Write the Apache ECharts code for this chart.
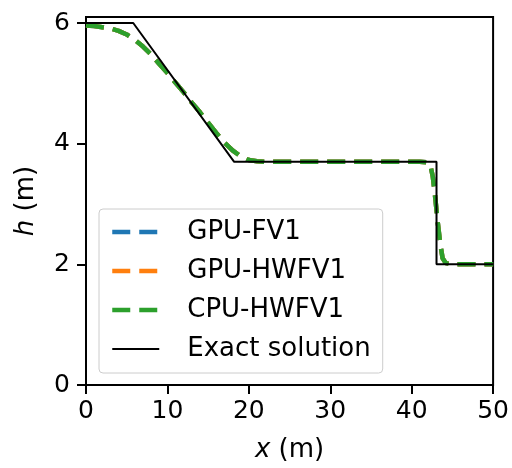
<!DOCTYPE html>
<html>
<head>
<meta charset="utf-8">
<script src="https://cdn.jsdelivr.net/npm/echarts@6/dist/echarts.min.js"></script>
<style>
  html, body { margin: 0; padding: 0; background: #fff; }
  #main { width: 512px; height: 468px; }
</style>
</head>
<body>
<div id="main"></div>
<script>
// numerical solutions (all three schemes give the same curve)
var xNum = [0, 1, 2, 3, 4, 5, 6, 7, 8, 9, 10, 11, 12, 13, 14, 15, 16, 17, 18, 19, 20, 21, 22, 25, 30, 35, 40, 41, 42, 42.3, 42.6, 42.9, 43.2, 43.5, 43.8, 44.2, 45, 47, 50]
var hGpuFv1 = [5.96, 5.95, 5.93, 5.91, 5.87, 5.81, 5.72, 5.61, 5.48, 5.32, 5.17, 5.01, 4.85, 4.68, 4.52, 4.35, 4.18, 4.02, 3.89, 3.79, 3.73, 3.71, 3.70, 3.70, 3.70, 3.70, 3.70, 3.70, 3.69, 3.64, 3.45, 3.10, 2.70, 2.35, 2.10, 2.02, 2.00, 2.00, 2.00]
var hGpuHwfv1 = hGpuFv1.slice()
var hCpuHwfv1 = hGpuFv1.slice()
// exact solution
var xExact = [0, 5.8, 18.2, 43.05, 43.05, 50]
var hExact = [6, 6, 3.7, 3.7, 2.0, 2.0]
var yTicks = [0, 2, 4, 6]

function pairs(xs, ys) {
  return xs.map(function(x, i) { return [x, ys[i]] })
}

var font = 'DejaVu Sans'
var dash = [18, 9]
var chart = echarts.init(document.getElementById('main'))

function dashed(name, color, ys) {
  return {
    name: name,
    type: 'line',
    data: pairs(xNum, ys),
    showSymbol: false,
    symbol: 'none',
    lineStyle: { color: color, width: 4.5, type: dash },
    itemStyle: { color: color }
  }
}

var option = {
  animation: false,
  textStyle: { fontFamily: font },
  grid: {
    left: 86, right: 17, top: 17, bottom: 81,
    show: true,
    borderColor: '#000',
    borderWidth: 2
  },
  legend: {
    orient: 'vertical',
    left: 99,
    top: 209,
    padding: [10, 12, 11, 11],
    itemWidth: 47,
    itemHeight: 14,
    itemGap: 13,
    backgroundColor: 'rgba(255,255,255,0.8)',
    borderColor: '#cccccc',
    borderWidth: 1,
    borderRadius: 4,
    itemStyle: { opacity: 0 },
    textStyle: { fontSize: 26, color: '#000', fontFamily: font, padding: [0, 0, 0, 23] },
    data: [
      { name: 'GPU-FV1', lineStyle: { type: dash, width: 4.5 } },
      { name: 'GPU-HWFV1', lineStyle: { type: dash, width: 4.5 } },
      { name: 'CPU-HWFV1', lineStyle: { type: dash, width: 4.5 } },
      { name: 'Exact solution', lineStyle: { type: 'solid', width: 2 } }
    ]
  },
  xAxis: {
    type: 'value',
    min: 0, max: 50, interval: 10,
    name: '{i|x} (m)',
    nameLocation: 'middle',
    nameGap: 52,
    nameTextStyle: {
      fontSize: 26, color: '#000', fontFamily: font,
      rich: { i: { fontSize: 26, fontStyle: 'italic', color: '#000', fontFamily: font } }
    },
    axisLine: { show: true, lineStyle: { color: '#000', width: 2 } },
    axisTick: { show: true, inside: false, length: 9, lineStyle: { color: '#000', width: 2 } },
    axisLabel: { fontSize: 25, color: '#000', margin: 14, fontFamily: font },
    splitLine: { show: false }
  },
  yAxis: {
    type: 'value',
    min: 0, max: 6.1,
    name: '{i|h} (m)',
    nameLocation: 'middle',
    nameRotate: 90,
    nameGap: 47,
    nameTextStyle: {
      fontSize: 26, color: '#000', fontFamily: font,
      rich: { i: { fontSize: 26, fontStyle: 'italic', color: '#000', fontFamily: font } }
    },
    axisLine: { show: true, lineStyle: { color: '#000', width: 2 } },
    axisTick: { show: true, inside: false, length: 9, customValues: yTicks, lineStyle: { color: '#000', width: 2 } },
    axisLabel: { fontSize: 25, color: '#000', margin: 16, customValues: yTicks, fontFamily: font },
    splitLine: { show: false }
  },
  series: [
    dashed('GPU-FV1', '#1f77b4', hGpuFv1),
    dashed('GPU-HWFV1', '#ff7f0e', hGpuHwfv1),
    dashed('CPU-HWFV1', '#2ca02c', hCpuHwfv1),
    {
      name: 'Exact solution',
      type: 'line',
      data: pairs(xExact, hExact),
      showSymbol: false,
      symbol: 'none',
      lineStyle: { color: '#000', width: 2, type: 'solid' },
      itemStyle: { color: '#000' }
    }
  ]
}
chart.setOption(option)
</script>
</body>
</html>
